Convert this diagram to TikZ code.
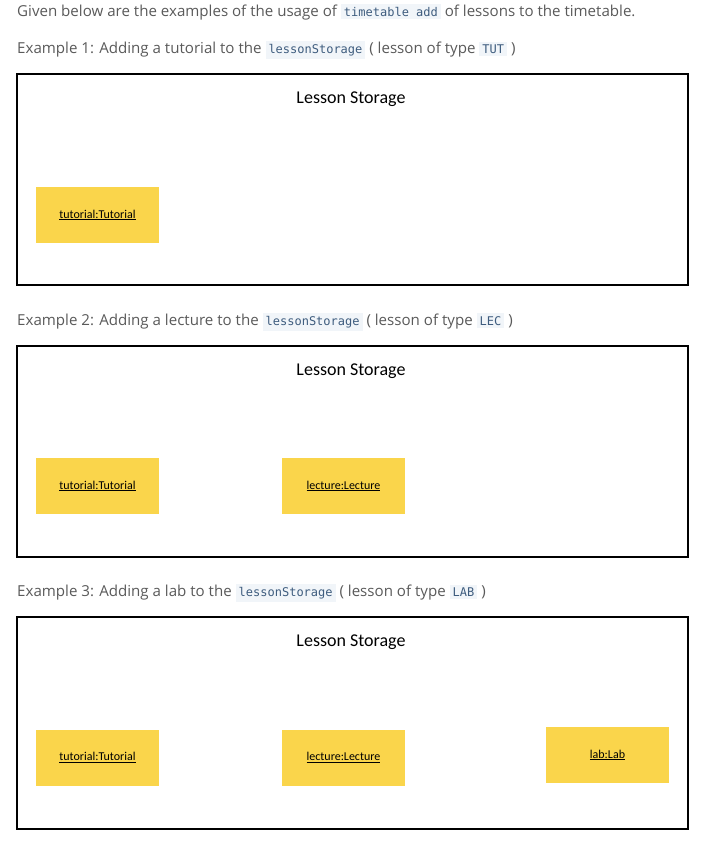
\documentclass[tikz,border=0pt]{standalone}
\usepackage{fontspec}
\setmainfont{Open Sans}
\setmonofont{DejaVu Sans Mono}
\newfontfamily\calib{Carlito}
\definecolor{txt}{HTML}{5A5A5A}
\definecolor{codefg}{HTML}{3E5C7E}
\definecolor{codebg}{HTML}{F1F5F9}
\definecolor{sticky}{HTML}{FAD54B}
\newcommand{\cd}[1]{{\setlength{\fboxsep}{3pt}\colorbox{codebg}{\color{codefg}\ttfamily\fontsize{12}{14}\selectfont #1}}}
\tikzset{
  line/.style={anchor=west, inner sep=0pt, text=txt, font=\fontsize{15.1}{18}\selectfont},
  frame/.style={draw=black, line width=2pt},
  title/.style={font=\calib\fontsize{18}{21}\selectfont, inner sep=0pt},
  obj/.style={fill=sticky, minimum width=123pt, minimum height=56pt, inner sep=0pt, font=\calib\fontsize{12}{14}\selectfont}
}
\begin{document}
\begin{tikzpicture}[x=1pt,y=-1pt]
\useasboundingbox[fill=white] (0,0) rectangle (709,850);
\node[line] (l0) at (17,12) {Given below are the examples of the usage of \cd{timetable add} of lessons to the timetable.};
\node[line] (l1) at (17,50) {Example 1: Adding a tutorial to the \cd{lessonStorage} ( lesson of type \cd{TUT} )};
\node[frame, minimum width=671pt, minimum height=211pt, inner sep=0pt] (f1) at (352.5,179.5) {};
\node[title] (t1) at (351,99) {Lesson Storage};
\node[obj] (o11) at (97.5,215) {\raisebox{-1pt}{\underline{tutorial:Tutorial}}};

\node[line] (l2) at (17,322) {Example 2: Adding a lecture to the \cd{lessonStorage} ( lesson of type \cd{LEC} )};
\node[frame, minimum width=671pt, minimum height=211pt, inner sep=0pt] (f2) at (352.5,451.5) {};
\node[title] (t2) at (351,371) {Lesson Storage};
\node[obj] (o21) at (97.5,486) {\raisebox{-1pt}{\underline{tutorial:Tutorial}}};
\node[obj] (o22) at (343.5,486) {\raisebox{-1pt}{\underline{lecture:Lecture}}};

\node[line] (l3) at (17,593) {Example 3: Adding a lab to the \cd{lessonStorage} ( lesson of type \cd{LAB} )};
\node[frame, minimum width=671pt, minimum height=212pt, inner sep=0pt] (f3) at (352.5,723) {};
\node[title] (t3) at (351,642) {Lesson Storage};
\node[obj] (o31) at (97.5,757.5) {\raisebox{-1pt}{\underline{tutorial:Tutorial}}};
\node[obj] (o32) at (343.5,757.5) {\raisebox{-1pt}{\underline{lecture:Lecture}}};
\node[obj] (o33) at (607.5,755) {\raisebox{-1pt}{\underline{lab:Lab}}};
\end{tikzpicture}
\end{document}
